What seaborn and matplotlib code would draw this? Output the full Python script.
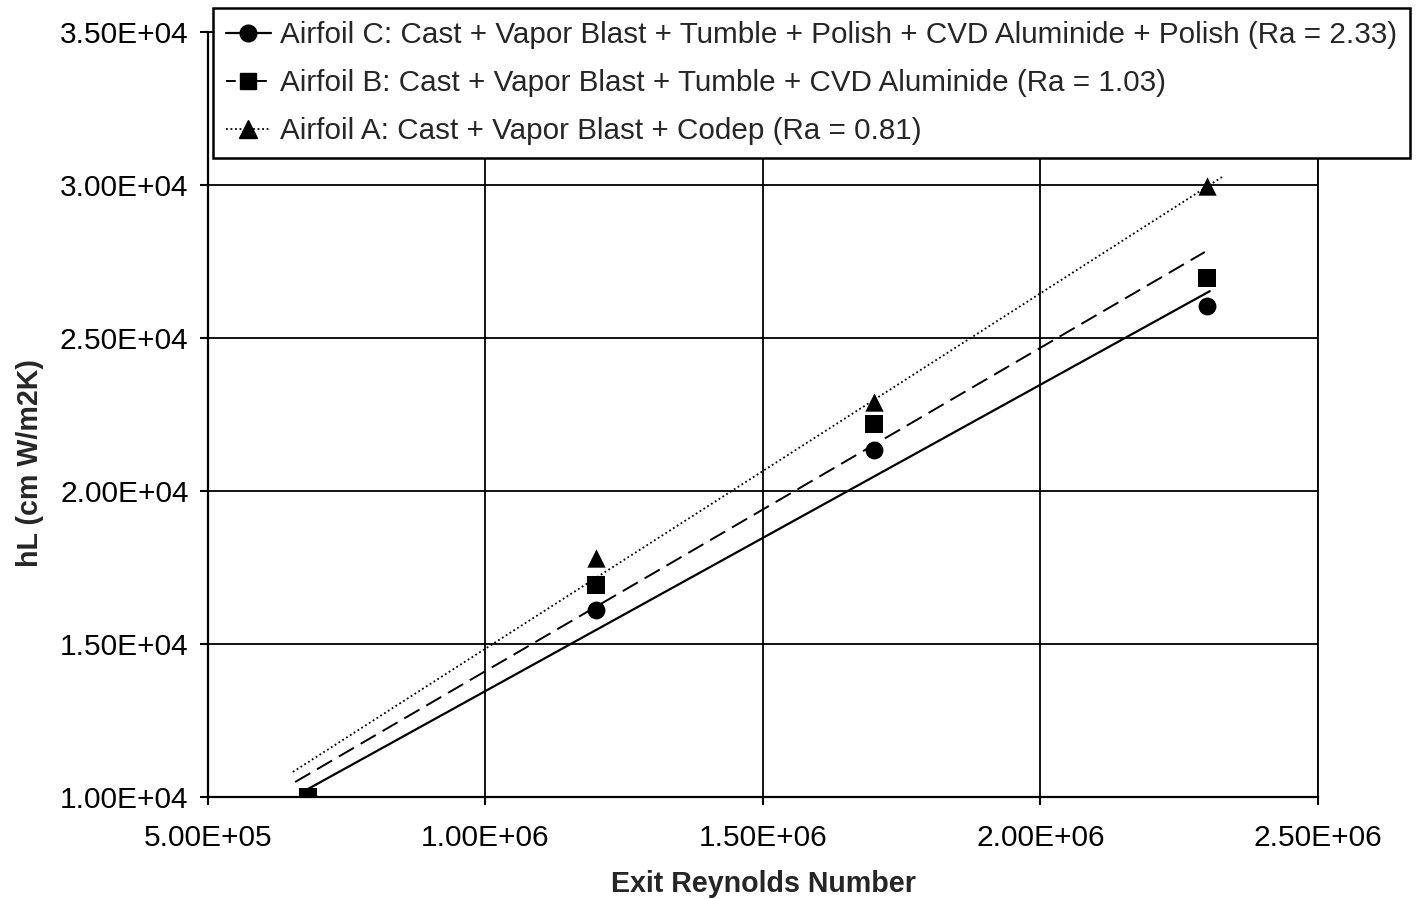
import numpy as np
import pandas as pd
import matplotlib
matplotlib.use("Agg")
import matplotlib.pyplot as plt
from matplotlib.lines import Line2D
from matplotlib.ticker import FuncFormatter
import seaborn as sns

# ---- data ----
reynolds = [6.8e5, 1.2e6, 1.7e6, 2.3e6]
hl_c = [1.00e4, 1.612e4, 2.133e4, 2.604e4]
hl_b = [1.00e4, 1.694e4, 2.218e4, 2.696e4]
hl_a = [1.00e4, 1.782e4, 2.292e4, 2.998e4]

# trend lines (start / end)
trend_c_x = [6.8e5, 2.305e6]
trend_c_y = [1.026e4, 2.653e4]
trend_b_x = [6.57e5, 2.296e6]
trend_b_y = [1.049e4, 2.781e4]
trend_a_x = [6.53e5, 2.327e6]
trend_a_y = [1.082e4, 3.026e4]

labels = [
    "Airfoil C: Cast + Vapor Blast + Tumble + Polish + CVD Aluminide + Polish (Ra = 2.33)",
    "Airfoil B: Cast + Vapor Blast + Tumble + CVD Aluminide (Ra = 1.03)",
    "Airfoil A: Cast + Vapor Blast + Codep (Ra = 0.81)",
]
xticks = [5e5, 1e6, 1.5e6, 2e6, 2.5e6]
yticks = [1e4, 1.5e4, 2e4, 2.5e4, 3e4, 3.5e4]

sns.set_theme(style="white")
plt.rcParams["font.family"] = ["Liberation Sans", "DejaVu Sans"]

FS = 21.5
LFS = 21.3
fig = plt.figure(figsize=(14.16, 8.99), dpi=100)
ax = fig.add_axes([208 / 1416, 1 - 797 / 899, (1318 - 208) / 1416, (797 - 32) / 899])

# trend lines
sns.lineplot(x=trend_c_x, y=trend_c_y, ax=ax, color="black", lw=1.6, linestyle="-", zorder=3)
sns.lineplot(x=trend_b_x, y=trend_b_y, ax=ax, color="black", lw=1.4, zorder=3).lines[-1].set_dashes([9, 4])
sns.lineplot(x=trend_a_x, y=trend_a_y, ax=ax, color="black", lw=1.3, zorder=3).lines[-1].set_dashes([1, 1.5])

# markers
sns.scatterplot(x=reynolds, y=hl_c, ax=ax, marker="o", s=165, color="black",
                edgecolor="black", linewidth=0, zorder=4)
sns.scatterplot(x=reynolds, y=hl_a, ax=ax, marker="^", s=175, color="black",
                edgecolor="black", linewidth=0, zorder=4)
sns.scatterplot(x=reynolds, y=hl_b, ax=ax, marker="s", s=155, color="black",
                edgecolor="black", linewidth=0, zorder=4)

ax.set_xlim(5e5, 2.5e6)
ax.set_ylim(1e4, 3.5e4)
ax.set_xticks(xticks)
ax.set_yticks(yticks)
fmt = FuncFormatter(lambda v, p: "{:.2E}".format(v))
ax.xaxis.set_major_formatter(fmt)
ax.yaxis.set_major_formatter(fmt)

ax.grid(True, color="black", lw=1.3)
ax.set_axisbelow(True)
for side in ["top", "right"]:
    ax.spines[side].set_visible(True)
    ax.spines[side].set_color("black")
    ax.spines[side].set_linewidth(1.3)
for side in ["left", "bottom"]:
    ax.spines[side].set_color("black")
    ax.spines[side].set_linewidth(1.6)

ax.tick_params(axis="both", which="major", direction="out", length=6, width=1.5,
               color="black", labelsize=FS, labelcolor="black",
               left=True, bottom=True)
ax.tick_params(axis="y", pad=8)
ax.tick_params(axis="x", pad=13.5)

ax.set_xlabel("Exit Reynolds Number", fontsize=20.6, fontweight="bold", labelpad=13)
ax.set_ylabel("hL (cm W/m2K)", fontsize=20.6, fontweight="bold")
ax.yaxis.set_label_coords(-0.148, 0.437)

handles = [
    Line2D([], [], color="black", lw=1.6, ls="-", marker="o", markersize=12),
    Line2D([], [], color="black", lw=1.4, dashes=[5, 3], marker="s", markersize=12),
    Line2D([], [], color="black", lw=1.3, dashes=[1, 1.5], marker="^", markersize=13),
]
leg = ax.legend(handles, labels, loc="upper left", bbox_to_anchor=(213 / 1416, 1 - 8 / 899),
                bbox_transform=fig.transFigure, fontsize=LFS, frameon=True, fancybox=False,
                framealpha=1, edgecolor="black", handlelength=1.5, handletextpad=0.3,
                borderpad=0.45, labelspacing=0.67, borderaxespad=0)
leg.get_frame().set_linewidth(1.8)
leg.set_zorder(10)

fig.savefig("out.png", dpi=100, facecolor="white")
